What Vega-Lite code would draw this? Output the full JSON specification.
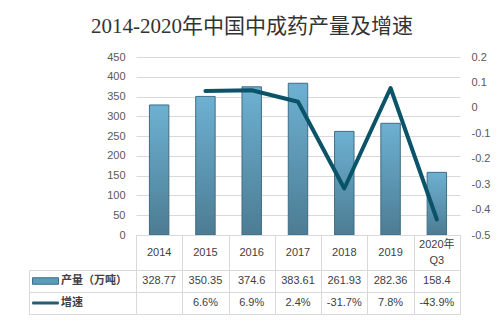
{
  "$schema": "https://vega.github.io/schema/vega-lite/v6.json",
  "autosize": {"type": "pad"},
  "padding": {"left": 28, "top": 16, "right": 14, "bottom": 9},
  "background": "white",
  "title": {
    "text": "2014-2020年中国中成药产量及增速",
    "font": "Liberation Serif, Noto Sans CJK SC",
    "fontSize": 21,
    "fontWeight": "normal",
    "color": "#333333",
    "anchor": "middle",
    "baseline": "bottom",
    "dx": -7,
    "offset": -7
  },
  "datasets": {
    "d": [
      {"year": "2014", "prod": 328.77, "growth": null},
      {"year": "2015", "prod": 350.35, "growth": 0.066},
      {"year": "2016", "prod": 374.6, "growth": 0.069},
      {"year": "2017", "prod": 383.61, "growth": 0.024},
      {"year": "2018", "prod": 261.93, "growth": -0.317},
      {"year": "2019", "prod": 282.36, "growth": 0.078},
      {"year": "2020年\nQ3", "prod": 158.4, "growth": -0.439}
    ]
  },
  "vconcat": [
    {
      "width": 324,
      "height": 178,
      "data": {"name": "d"},
      "view": {"stroke": null},
      "layer": [
        {
          "mark": {
            "type": "bar",
            "color": {
              "gradient": "linear",
              "x1": 0, "y1": 0, "x2": 0, "y2": 1,
              "stops": [
                {"offset": 0, "color": "#6db1d2"},
                {"offset": 1, "color": "#4c7c93"}
              ]
            },
            "stroke": "#3f6d84",
            "strokeWidth": 1
          },
          "encoding": {
            "x": {"field": "year", "type": "nominal", "sort": null, "axis": null,
                  "scale": {"paddingInner": 0.58, "paddingOuter": 0.29}},
            "y": {"field": "prod", "type": "quantitative",
                  "scale": {"domain": [0, 450]},
                  "axis": {"values": [0, 50, 100, 150, 200, 250, 300, 350, 400, 450],
                           "grid": true, "gridColor": "#d9d9d9", "domain": false,
                           "ticks": false, "labelPadding": 11, "title": null}}
          }
        },
        {
          "mark": {"type": "line", "color": "#0b5369", "strokeWidth": 4,
                   "strokeJoin": "round", "strokeCap": "round"},
          "encoding": {
            "x": {"field": "year", "type": "nominal", "sort": null, "axis": null,
                  "scale": {"paddingInner": 0.58, "paddingOuter": 0.29}},
            "y": {"field": "growth", "type": "quantitative",
                  "scale": {"domain": [-0.5, 0.2], "zero": false, "nice": false},
                  "axis": {"orient": "right",
                           "values": [-0.5, -0.4, -0.3, -0.2, -0.1, 0, 0.1, 0.2],
                           "format": "~g", "grid": false, "domain": false,
                           "ticks": false, "labelPadding": 11, "title": null}}
          }
        }
      ],
      "resolve": {"scale": {"y": "independent"}}
    },
    {
      "width": 324,
      "height": 35,
      "data": {"name": "d"},
      "view": {"stroke": "#d9d9d9"},
      "layer": [
        {
          "transform": [{"filter": "indexof(datum.year, '\\n') < 0"}],
          "mark": {"type": "text", "font": "Liberation Sans, Noto Sans CJK SC", "fontSize": 11,
                   "color": "#404040", "baseline": "middle"},
          "encoding": {
            "x": {"field": "year", "type": "nominal", "sort": null,
                  "scale": {"domain": ["2014", "2015", "2016", "2017", "2018", "2019", "2020年\nQ3"]},
                  "axis": {"grid": true, "tickBand": "extent", "gridColor": "#d9d9d9",
                           "labels": false, "ticks": false, "domain": false, "title": null}},
            "text": {"field": "year", "type": "nominal"}
          }
        },
        {
          "transform": [{"filter": "indexof(datum.year, '\\n') >= 0"}],
          "mark": {"type": "text", "lineBreak": "\n", "lineHeight": 16, "dy": -8,
                   "font": "Liberation Sans, Noto Sans CJK SC", "fontSize": 11,
                   "color": "#404040", "baseline": "middle"},
          "encoding": {
            "x": {"field": "year", "type": "nominal", "sort": null},
            "text": {"field": "year", "type": "nominal"}
          }
        }
      ]
    },
    {
      "width": 324,
      "height": 44,
      "view": {"stroke": "#d9d9d9"},
      "layer": [
        {
          "data": {"name": "d"},
          "mark": {"type": "text", "font": "Liberation Sans", "fontSize": 11,
                   "color": "#404040", "baseline": "middle"},
          "encoding": {
            "x": {"field": "year", "type": "nominal", "sort": null,
                  "axis": {"grid": true, "tickBand": "extent", "gridColor": "#d9d9d9",
                           "labels": false, "ticks": false, "domain": false, "title": null}},
            "y": {"datum": "产量（万吨）", "type": "nominal",
                  "scale": {"domain": ["产量（万吨）", "增速"], "paddingInner": 0, "paddingOuter": 0},
                  "axis": {"orient": "left", "offset": 107, "tickSize": -107,
                           "tickBand": "extent", "ticks": true, "tickColor": "#d9d9d9",
                           "domain": true, "domainColor": "#d9d9d9", "grid": true,
                           "gridColor": "#d9d9d9", "labels": false, "title": null}},
            "text": {"field": "prod", "type": "nominal"}
          }
        },
        {
          "data": {"name": "d"},
          "transform": [{"filter": "isValid(datum.growth)"}],
          "mark": {"type": "text", "font": "Liberation Sans", "fontSize": 11,
                   "color": "#404040", "baseline": "middle"},
          "encoding": {
            "x": {"field": "year", "type": "nominal", "sort": null},
            "y": {"datum": "增速", "type": "nominal"},
            "text": {"field": "growth", "type": "quantitative", "format": ".1%"}
          }
        },
        {
          "data": {"values": [{"series": "产量（万吨）"}, {"series": "增速"}]},
          "mark": {"type": "point", "filled": true, "opacity": 0},
          "encoding": {
            "color": {"field": "series", "type": "nominal",
                      "scale": {"domain": ["产量（万吨）", "增速"], "range": ["#5b9cbc", "#0b5369"]},
                      "legend": {"orient": "none", "legendX": -104, "legendY": 213,
                                 "title": null, "padding": 0, "labelOffset": 2,
                                 "labelFont": "Noto Sans CJK SC", "labelFontSize": 11,
                                 "labelFontWeight": "bold", "labelColor": "#404040",
                                 "symbolSize": 676, "symbolStrokeWidth": 1,
                                 "symbolStrokeColor": "#3f6d84", "symbolOpacity": 1,
                                 "clipHeight": 22, "rowPadding": 0}},
            "shape": {"field": "series", "type": "nominal",
                      "scale": {"domain": ["产量（万吨）", "增速"],
                                "range": ["M-1,-0.25H1V0.25H-1Z", "M-1,-0.08H1V0.08H-1Z"]},
                      "legend": null}
          }
        }
      ]
    }
  ],
  "spacing": 0,
  "bounds": "flush",
  "config": {
    "locale": {"number": {"decimal": ".", "thousands": ",", "grouping": [3], "currency": ["$", ""], "minus": "-"}},
    "axis": {"labelFont": "Liberation Sans", "labelFontSize": 11, "labelColor": "#595959"}
  }
}
